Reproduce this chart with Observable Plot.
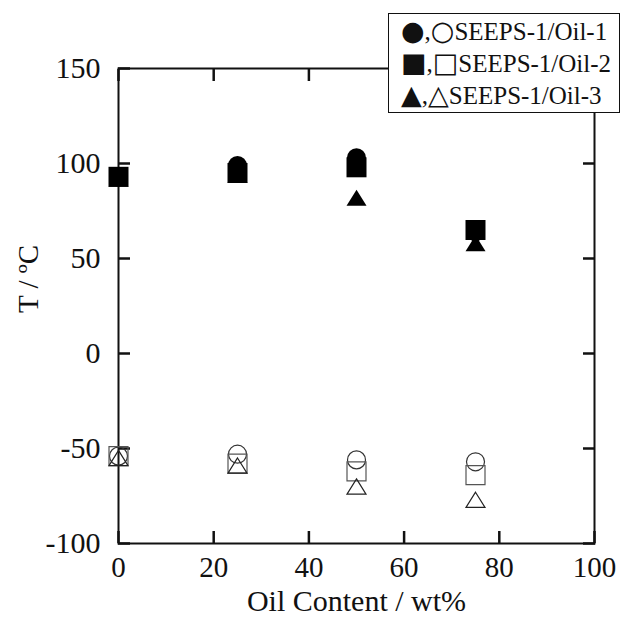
<!DOCTYPE html>
<html>
<head>
<meta charset="utf-8">
<script src="https://cdn.jsdelivr.net/npm/d3@7"></script>
<script src="https://cdn.jsdelivr.net/npm/@observablehq/plot@0.6"></script>
<style>
  html, body { margin: 0; padding: 0; background: white; }
  #wrap { position: relative; width: 624px; height: 622px; }
  #chart svg text { font-family: "Liberation Serif", "Times New Roman", serif; }
  #legend {
    position: absolute; left: 388px; top: 13px; width: 230px; height: 98px;
    border: 1.6px solid #111; background: white;
    font-family: "Liberation Serif", "Times New Roman", serif; font-size: 25px; color: #111;
    box-sizing: content-box; padding: 0;
  }
  #legend .row { height: 32px; line-height: 32px; white-space: nowrap; padding-left: 12px; }
  #legend .row:first-child { margin-top: 1px; }
  #legend .sym { font-family: "DejaVu Sans", sans-serif; font-size: 27px; }
</style>
</head>
<body>
<div id="wrap">
  <div id="chart"></div>
  <div id="legend"></div>
</div>
<script>
// Data
const oilContent = [0, 25, 50, 75];
// Filled symbols (upper transition)
const oil1High = [93, 99, 103, 64];
const oil2High = [93, 95, 98, 65];
const oil3High = [92, 94, 82, 58];
// Open symbols (lower transition)
const oil1Low = [-54, -53, -56, -57];
const oil2Low = [-54, -58, -62, -64];
const oil3Low = [-55, -59, -70, -77];

const xTicks = [0, 20, 40, 60, 80, 100];
const yTicks = [-100, -50, 0, 50, 100, 150];
const seriesNames = ["SEEPS-1/Oil-1", "SEEPS-1/Oil-2", "SEEPS-1/Oil-3"];
const legendSymbols = [["●", "○"], ["■", "□"], ["▲", "△"]];
const xLabel = "Oil Content / wt%";
const yLabel = "T / ºC";

const serif = '"Liberation Serif", "Times New Roman", serif';
const rows = (ys) => oilContent.map((x, i) => ({x, y: ys[i]}));

// custom symbols: r = half width
const circleSym = {draw(ctx, size) { const r = Math.sqrt(size / Math.PI); ctx.moveTo(r, 0); ctx.arc(0, 0, r, 0, 2 * Math.PI); ctx.closePath(); }};
const squareSym = {draw(ctx, size) { const r = Math.sqrt(size / Math.PI); ctx.rect(-r, -r, 2 * r, 2 * r); }};
const triSym = {draw(ctx, size) { const r = Math.sqrt(size / Math.PI); const h = 0.8 * r; ctx.moveTo(0, -h); ctx.lineTo(r, h); ctx.lineTo(-r, h); ctx.closePath(); }};

const fmt = d => String(d);

const chart = Plot.plot({
  width: 624,
  height: 622,
  marginLeft: 118,
  marginRight: 30,
  marginTop: 68,
  marginBottom: 79,
  style: {fontFamily: serif, fontSize: "29px", background: "white", color: "#111"},
  x: {domain: [0, 100]},
  y: {domain: [-100, 150]},
  marks: [
    Plot.frame({stroke: "#111", strokeWidth: 2}),
    Plot.axisX({anchor: "bottom", ticks: xTicks, tickSize: -12, tickPadding: 25, strokeWidth: 2.5, fontSize: 29, fontFamily: serif, tickFormat: fmt, label: null}),
    Plot.axisX({anchor: "top", ticks: xTicks, tickSize: -12, strokeWidth: 2.5, tickFormat: () => "", label: null}),
    Plot.axisY({anchor: "left", ticks: yTicks, tickSize: -12, tickPadding: 30, strokeWidth: 2.5, fontSize: 30, fontFamily: serif, tickFormat: fmt, label: null}),
    Plot.axisY({anchor: "right", ticks: yTicks, tickSize: -12, strokeWidth: 2.5, tickFormat: () => "", label: null}),
    // filled
    Plot.dot(rows(oil1High), {x: "x", y: "y", symbol: circleSym, r: 9.5, fill: "black", stroke: "none"}),
    Plot.dot(rows(oil2High), {x: "x", y: "y", symbol: squareSym, r: 10, fill: "black", stroke: "none"}),
    Plot.dot(rows(oil3High), {x: "x", y: "y", symbol: triSym, r: 10, fill: "black", stroke: "none"}),
    // open
    Plot.dot(rows(oil1Low), {x: "x", y: "y", symbol: circleSym, r: 9, fill: "none", stroke: "#333", strokeWidth: 1.2}),
    Plot.dot(rows(oil2Low), {x: "x", y: "y", symbol: squareSym, r: 9.5, fill: "none", stroke: "#555", strokeWidth: 1.2}),
    Plot.dot(rows(oil3Low), {x: "x", y: "y", symbol: triSym, r: 9.5, fill: "none", stroke: "#222", strokeWidth: 1.2}),
    // axis titles
    Plot.text([xLabel], {text: d => d, frameAnchor: "bottom", dy: 67, fontSize: 30, fontFamily: serif, fill: "#111"}),
    Plot.text([yLabel], {text: d => d, frameAnchor: "left", dx: -90, dy: -27, rotate: -90, textAnchor: "middle", fontSize: 29, fontFamily: serif, fill: "#111"})
  ]
});
document.getElementById("chart").appendChild(chart);

const legend = document.getElementById("legend");
seriesNames.forEach((name, i) => {
  const row = document.createElement("div");
  row.className = "row";
  const s1 = document.createElement("span"); s1.className = "sym"; s1.textContent = legendSymbols[i][0];
  const c = document.createTextNode(",");
  const s2 = document.createElement("span"); s2.className = "sym"; s2.textContent = legendSymbols[i][1];
  const t = document.createTextNode(name);
  row.append(s1, c, s2, t);
  legend.appendChild(row);
});
</script>
</body>
</html>
